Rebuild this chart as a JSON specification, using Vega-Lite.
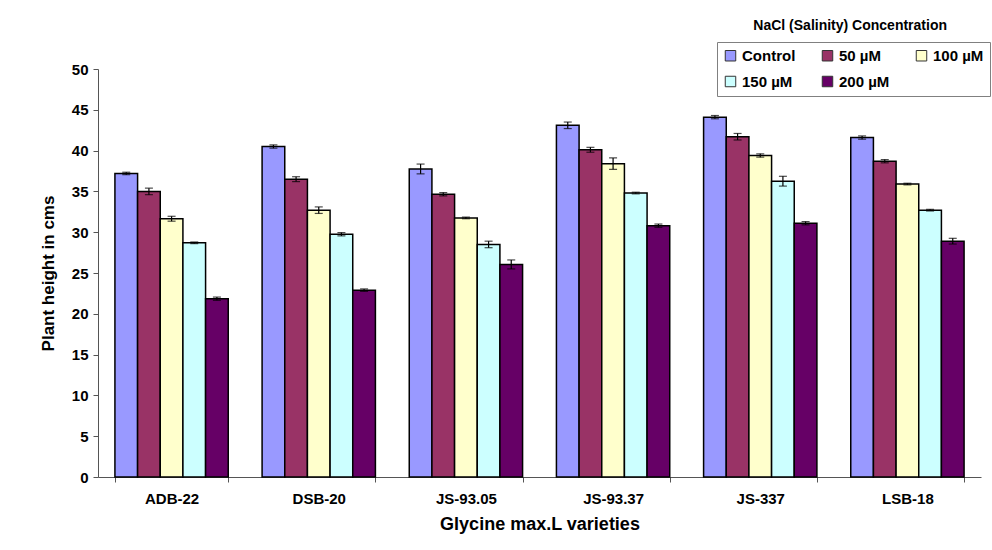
{
  "$schema": "https://vega.github.io/schema/vega-lite/v6.json",
  "width": 883,
  "height": 408,
  "autosize": {"type": "none"},
  "padding": {"left": 98, "top": 69, "right": 11, "bottom": 73},
  "background": "white",
  "title": {
    "text": "NaCl (Salinity) Concentration",
    "anchor": "end",
    "frame": "group",
    "dx": -34,
    "offset": 9,
    "font": "Liberation Sans",
    "fontSize": 14,
    "fontWeight": "bold",
    "color": "#000"
  },
  "config": {
    "view": {"stroke": null},
    "font": "Liberation Sans",
    "axis": {
      "labelFont": "Liberation Sans",
      "titleFont": "Liberation Sans",
      "labelFontWeight": "bold",
      "titleFontWeight": "bold",
      "labelColor": "#000",
      "titleColor": "#000",
      "domainColor": "#555",
      "tickColor": "#555",
      "grid": false
    }
  },
  "data": {
    "values": [
      {"variety": "ADB-22", "level": "Control", "v": 37.2, "lo": 37.05, "hi": 37.35},
      {"variety": "ADB-22", "level": "50 µM", "v": 35.0, "lo": 34.6, "hi": 35.4},
      {"variety": "ADB-22", "level": "100 µM", "v": 31.65, "lo": 31.35, "hi": 31.95},
      {"variety": "ADB-22", "level": "150 µM", "v": 28.7, "lo": 28.6, "hi": 28.8},
      {"variety": "ADB-22", "level": "200 µM", "v": 21.85, "lo": 21.65, "hi": 22.05},
      {"variety": "DSB-20", "level": "Control", "v": 40.5, "lo": 40.3, "hi": 40.7},
      {"variety": "DSB-20", "level": "50 µM", "v": 36.5, "lo": 36.2, "hi": 36.8},
      {"variety": "DSB-20", "level": "100 µM", "v": 32.7, "lo": 32.3, "hi": 33.1},
      {"variety": "DSB-20", "level": "150 µM", "v": 29.75, "lo": 29.55, "hi": 29.95},
      {"variety": "DSB-20", "level": "200 µM", "v": 22.9, "lo": 22.75, "hi": 23.05},
      {"variety": "JS-93.05", "level": "Control", "v": 37.75, "lo": 37.15, "hi": 38.35},
      {"variety": "JS-93.05", "level": "50 µM", "v": 34.65, "lo": 34.45, "hi": 34.85},
      {"variety": "JS-93.05", "level": "100 µM", "v": 31.75, "lo": 31.65, "hi": 31.85},
      {"variety": "JS-93.05", "level": "150 µM", "v": 28.5, "lo": 28.1, "hi": 28.9},
      {"variety": "JS-93.05", "level": "200 µM", "v": 26.05, "lo": 25.5, "hi": 26.6},
      {"variety": "JS-93.37", "level": "Control", "v": 43.1, "lo": 42.7, "hi": 43.5},
      {"variety": "JS-93.37", "level": "50 µM", "v": 40.1, "lo": 39.8, "hi": 40.4},
      {"variety": "JS-93.37", "level": "100 µM", "v": 38.4, "lo": 37.7, "hi": 39.1},
      {"variety": "JS-93.37", "level": "150 µM", "v": 34.8, "lo": 34.7, "hi": 34.9},
      {"variety": "JS-93.37", "level": "200 µM", "v": 30.8, "lo": 30.6, "hi": 31.0},
      {"variety": "JS-337", "level": "Control", "v": 44.1, "lo": 43.9, "hi": 44.3},
      {"variety": "JS-337", "level": "50 µM", "v": 41.7, "lo": 41.3, "hi": 42.1},
      {"variety": "JS-337", "level": "100 µM", "v": 39.4, "lo": 39.2, "hi": 39.6},
      {"variety": "JS-337", "level": "150 µM", "v": 36.25, "lo": 35.65, "hi": 36.85},
      {"variety": "JS-337", "level": "200 µM", "v": 31.1, "lo": 30.9, "hi": 31.3},
      {"variety": "LSB-18", "level": "Control", "v": 41.6, "lo": 41.4, "hi": 41.8},
      {"variety": "LSB-18", "level": "50 µM", "v": 38.7, "lo": 38.5, "hi": 38.9},
      {"variety": "LSB-18", "level": "100 µM", "v": 35.9, "lo": 35.8, "hi": 36.0},
      {"variety": "LSB-18", "level": "150 µM", "v": 32.7, "lo": 32.6, "hi": 32.8},
      {"variety": "LSB-18", "level": "200 µM", "v": 28.9, "lo": 28.55, "hi": 29.25}
    ]
  },
  "encoding": {
    "x": {
      "field": "variety",
      "type": "nominal",
      "sort": null,
      "scale": {"paddingInner": 0.23, "paddingOuter": 0.115},
      "axis": {
        "title": "Glycine max.L varieties",
        "labelAngle": 0,
        "labelFontSize": 15,
        "titleFontSize": 18,
        "tickBand": "extent",
        "tickSize": 5,
        "labelPadding": 9,
        "titlePadding": 9
      }
    },
    "xOffset": {
      "field": "level",
      "type": "nominal",
      "sort": ["Control", "50 µM", "100 µM", "150 µM", "200 µM"],
      "scale": {"paddingInner": 0, "paddingOuter": 0}
    }
  },
  "layer": [
    {
      "mark": {"type": "bar", "stroke": "#000", "strokeWidth": 1.5},
      "encoding": {
        "y": {
          "field": "v",
          "type": "quantitative",
          "scale": {"domain": [0, 50], "nice": false},
          "axis": {
            "title": "Plant height in cms",
            "values": [0, 5, 10, 15, 20, 25, 30, 35, 40, 45, 50],
            "labelFontSize": 15,
            "titleFontSize": 17,
            "tickSize": 5,
            "labelPadding": 5,
            "titlePadding": 14
          }
        },
        "color": {
          "field": "level",
          "type": "nominal",
          "sort": ["Control", "50 µM", "100 µM", "150 µM", "200 µM"],
          "scale": {
            "domain": ["Control", "50 µM", "100 µM", "150 µM", "200 µM"],
            "range": ["#9999FF", "#993366", "#FFFFCC", "#CCFFFF", "#660066"]
          },
          "legend": {
            "title": null,
            "orient": "none",
            "legendX": 619,
            "legendY": -27,
            "direction": "horizontal",
            "columns": 3,
            "strokeColor": "#808080",
            "padding": 6,
            "symbolType": "square",
            "symbolSize": 110,
            "symbolStrokeColor": "#333",
            "symbolStrokeWidth": 1,
            "labelFont": "Liberation Sans",
            "labelFontSize": 15,
            "labelFontWeight": "bold",
            "labelColor": "#000",
            "labelOffset": 4,
            "columnPadding": 24,
            "rowPadding": 10
          }
        }
      }
    },
    {
      "mark": {"type": "rule", "color": "#000", "strokeWidth": 1.2},
      "encoding": {
        "y": {"field": "lo", "type": "quantitative"},
        "y2": {"field": "hi"}
      }
    },
    {
      "mark": {"type": "tick", "color": "#000", "size": 8, "thickness": 1.2, "orient": "horizontal"},
      "encoding": {
        "y": {"field": "lo", "type": "quantitative"}
      }
    },
    {
      "mark": {"type": "tick", "color": "#000", "size": 8, "thickness": 1.2, "orient": "horizontal"},
      "encoding": {
        "y": {"field": "hi", "type": "quantitative"}
      }
    }
  ]
}
